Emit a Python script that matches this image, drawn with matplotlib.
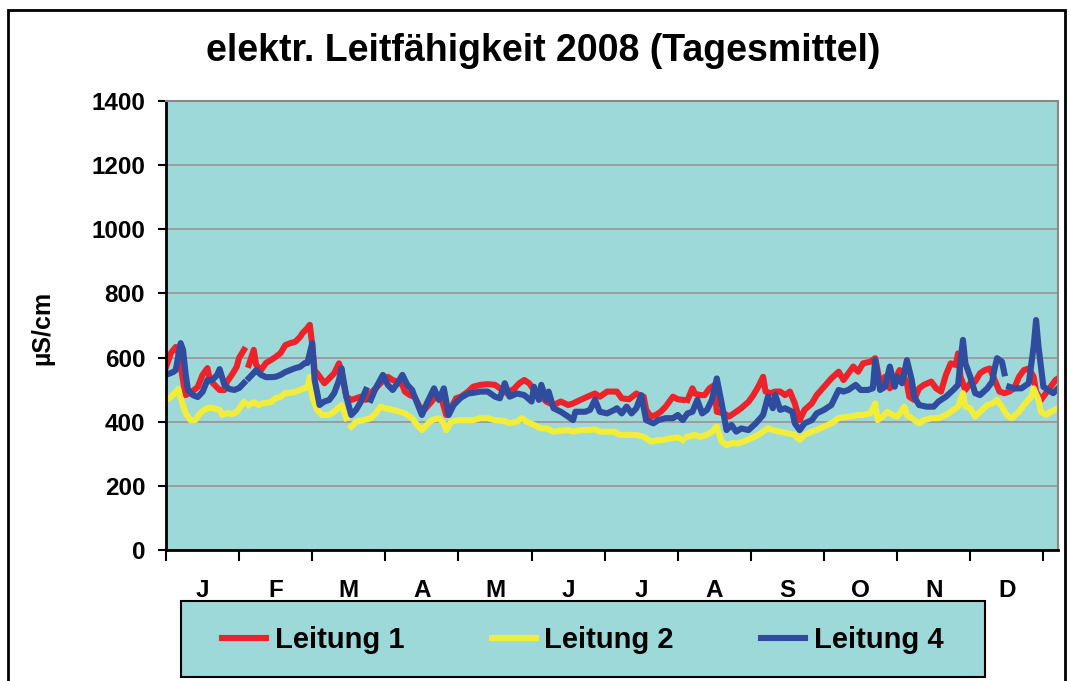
import numpy as np
import matplotlib
matplotlib.use("Agg")
import matplotlib.pyplot as plt
from matplotlib.patches import Rectangle

plt.rcParams["font.family"] = ["Liberation Sans", "DejaVu Sans"]
plt.rcParams["font.weight"] = "bold"

# Daily means (day of year, µS/cm); None = missing data
nan = None
l1_days = [0, 2, 4, 5, 8, 10, 13, 15, 17, 18, 20, 22, 24, 25, 27, 29, 30, 32, 33, 34, 36, 37, 39, 41,
           43, 45, 47, 49, 51, 53, 55, 56, 58, 59, 60, 61, 62, 65, 67, 69, 71, 72, 74, 76, 78, 80,
           82, 84, 86, 88, 91, 93, 95, 97, 98, 100, 102, 104, 106, 109, 111, 113, 115, 117, 119,
           121, 124, 126, 129, 132, 135, 137, 140, 143, 145, 147, 149, 151, 154, 156, 159, 162,
           165, 167, 170, 173, 176, 178, 181, 184, 185, 187, 190, 193, 195, 196, 197, 199, 201,
           203, 205, 208, 210, 212, 213, 214, 216, 217, 219, 221, 223, 225, 226, 229, 231, 233,
           236, 239, 241, 243, 245, 246, 248, 250, 252, 254, 256, 258, 260, 262, 265, 267, 270,
           273, 276, 278, 280, 282, 284, 286, 289, 291, 293, 295, 297, 299, 301, 302, 304, 305,
           307, 309, 311, 314, 316, 318, 320, 322, 324, 325, 326, 328, 330, 332, 334, 336, 338,
           340, 342, 344, 346, 348, 350, 352, 354, 356, 357, 359, 362, 365, 366]
l1_vals = [570, 614, 633, 620, 483, 490, 508, 546, 567, 530, 514, 499, 499, 524, 546, 571, 599, 624, nan,
           577, 624, 577, 561, 583, 592, 602, 614, 639, 645, 649, 664, 676, 692, 702, 640, 560,
           551, 520, 535, 551, 582, 551, 478, 468, 473, 478, 468, 489, 504, 520, 540, 530, 525,
           515, 494, 483, 478, 447, 437, 463, 483, 473, 421, 442, 473, 478, 494, 509, 515, 517,
           515, 504, 488, 504, 520, 530, 520, 499, 478, 463, 452, 463, 452, 457, 468, 478, 488,
           478, 494, 494, 494, 473, 470, 488, 478, 478, 437, 416, 421, 431, 447, 478, 470, 468,
           nan, 468, 504, 488, 483, 483, 504, 514, 431, 426, 416, 426, 442, 462, 483, 509, 540,
           494, 489, 494, 494, 483, 494, 457, 405, 437, 457, 483, 509, 535, 556, 530, 551, 572,
           556, 582, 587, 598, 520, 540, 504, 530, 561, 555, 520, 478, 468, 504, 515, 525, 504,
           494, 546, 582, 577, 613, 540, 499, 520, 525, 551, 561, 566, 530, 494, 489, 494, 504,
           540, 561, 566, 540, 494, 468, 499, 530, 535]

l2_days = [0, 2, 4, 5, 6, 8, 10, 12, 14, 17, 19, 22, 23, 25, 27, 29, 31, 32, 33, 34, 36, 38, 40, 43,
           45, 47, 49, 51, 53, 55, 57, 58, 59, 60, 62, 64, 67, 69, 72, 74, 75, 76, 78, 81, 84, 86,
           88, 90, 93, 96, 98, 101, 103, 105, 107, 109, 112, 114, 115, 117, 120, 123, 126, 129,
           132, 135, 139, 141, 144, 146, 148, 151, 154, 156, 159, 162, 165, 167, 170, 173, 176,
           178, 181, 184, 186, 188, 191, 193, 196, 199, 202, 204, 207, 210, 212, 213, 214, 217,
           219, 222, 224, 226, 228, 230, 232, 235, 237, 240, 243, 245, 247, 249, 252, 255, 258,
           260, 262, 265, 267, 270, 273, 276, 278, 281, 284, 286, 289, 291, 292, 294, 296, 298,
           300, 302, 303, 304, 306, 309, 311, 314, 317, 320, 322, 325, 327, 328, 330, 332, 334,
           337, 339, 341, 343, 345, 347, 350, 352, 355, 356, 358, 359, 361, 363, 366]
l2_vals = [468, 477, 493, 502, 474, 427, 405, 405, 427, 443, 443, 437, 421, 427, 424, 430, 452, 461, nan,
           452, 461, 452, 458, 461, 474, 477, 490, 490, 493, 499, 505, 508, 540, 478, 437, 421,
           421, 431, 452, 411, nan, 385, 400, 405, 411, 426, 447, 442, 437, 431, 426, 411, 390,
           374, 390, 405, 411, 395, 374, 400, 405, 405, 405, 411, 411, 405, 402, 395, 400, 411,
           400, 390, 379, 379, 369, 372, 374, 369, 374, 374, 376, 369, 369, 369, 359, 359, 359,
           359, 353, 338, 343, 343, 348, 351, 343, nan, 353, 359, 353, 359, 369, 385, 338, 327,
           333, 333, 338, 348, 359, 369, 380, 374, 369, 364, 359, 343, 359, 369, 374, 385, 395,
           411, 414, 416, 421, 421, 426, 457, 405, 416, 431, 421, 416, 437, 447, 421, 411, 395,
           405, 411, 411, 421, 431, 447, 489, 447, 442, 416, 431, 452, 457, 468, 447, 421, 411,
           431, 452, 478, 504, 468, 431, 421, 431, 442]

l4_days = [0, 3, 4, 6, 7, 8, 9, 11, 13, 15, 17, 19, 21, 22, 24, 26, 28, 30, 32, 33, 34, 36, 37, 39,
           41, 43, 45, 47, 49, 51, 53, 55, 57, 58, 60, 61, 63, 65, 67, 69, 71, 72, 74, 76, 78, 80,
           82, 83, 84, 86, 89, 91, 93, 95, 97, 99, 101, 102, 105, 107, 110, 112, 114, 116, 118,
           121, 124, 126, 129, 132, 135, 137, 139, 141, 144, 147, 150, 151, 153, 154, 156, 157,
           159, 162, 165, 167, 168, 172, 174, 176, 178, 181, 184, 185, 187, 189, 191, 193, 195,
           197, 200, 202, 205, 208, 210, 212, 214, 216, 218, 220, 222, 224, 226, 228, 230, 232,
           234, 236, 239, 242, 245, 247, 249, 250, 252, 254, 257, 258, 260, 262, 265, 267, 270,
           273, 276, 278, 280, 283, 285, 288, 290, 291, 293, 295, 297, 299, 300, 302, 304, 306,
           307, 309, 312, 315, 317, 320, 323, 325, 326, 327, 328, 330, 332, 334, 337, 339, 340,
           341, 343, 344, 345, 346, 348, 351, 354, 356, 357, 358, 360, 362, 364, 366]
l4_vals = [546, 555, 561, 645, 624, 552, 499, 483, 477, 493, 530, 530, 546, 564, 514, 502, 499, 505, 521,
           nan, 536, 552, 561, 546, 539, 539, 540, 546, 555, 561, 567, 571, 583, 583, 645, 530,
           452, 463, 468, 489, 530, 567, 478, 421, 437, 463, 499, nan, 468, 504, 546, 515, 499,
           520, 546, 515, 499, 478, 421, 457, 504, 468, 504, 421, 452, 475, 488, 490, 494, 494,
           478, 473, 520, 478, 488, 483, 463, 509, 468, 515, 468, 494, 442, 431, 416, 405, 431,
           431, 437, 468, 431, 426, 437, 442, 426, 447, 426, 442, 483, 405, 395, 405, 411, 411,
           421, 405, 426, 431, 468, 426, 437, 468, 535, 457, 374, 390, 369, 379, 374, 395, 421,
           478, 442, 483, 437, 442, 431, 395, 374, 395, 405, 426, 437, 452, 499, 494, 499, 515,
           499, 499, 504, 592, 499, 509, 572, 509, 540, 520, 592, 530, 478, 452, 447, 447, 463,
           478, 499, 515, 587, 655, 582, 540, 489, 483, 504, 525, 566, 598, 587, 551, nan, 509,
           504, 504, 520, 634, 717, 634, 509, 499, 489, 504]

months = ["J", "F", "M", "A", "M", "J", "J", "A", "S", "O", "N", "D"]
series = [("Leitung 1", l1_days, l1_vals, "#EE2229"),
          ("Leitung 2", l2_days, l2_vals, "#F2EC3A"),
          ("Leitung 4", l4_days, l4_vals, "#2F4C9F")]

teal = "#9ED9D9"
fig = plt.figure(figsize=(10.70, 6.81), dpi=100)
ax = fig.add_axes([166 / 1070, 1 - 550 / 681, 892 / 1070, 449 / 681])
ax.set_facecolor(teal)

for name, d, v, c in series:
    ax.plot(np.array(d, dtype=float), np.array(v, dtype=float), color=c, lw=4.4,
            solid_joinstyle="round", label=name)

ax.set_xlim(0, 366)
ax.set_ylim(0, 1400)
ax.set_yticks(np.arange(0, 1401, 200))
ax.yaxis.grid(True, color="#999999", lw=1.3)
ax.set_axisbelow(True)
ax.tick_params(axis="y", length=6, width=1.5, pad=9, labelsize=17.5)

ax.set_xticks(np.arange(0, 361, 30))
ax.set_xticklabels([])
ax.set_xticks(np.arange(15, 360, 30), minor=True)
ax.set_xticklabels(months, minor=True, fontsize=17.5, fontweight="bold")
ax.tick_params(axis="x", which="major", length=8, width=1.5)
ax.tick_params(axis="x", which="minor", length=0, pad=21)

for s in ["left", "bottom"]:
    ax.spines[s].set_linewidth(2)
    ax.spines[s].set_color("black")
for s in ["top", "right"]:
    ax.spines[s].set_linewidth(1.5)
    ax.spines[s].set_color("#888888")

fig.text(543 / 1070, 1 - 51 / 681, "elektr. Leitfähigkeit 2008 (Tagesmittel)",
         ha="center", va="center", fontsize=27, fontweight="bold")
fig.text(42 / 1070, 1 - 328 / 681, "µS/cm", rotation=90, ha="center", va="center",
         fontsize=18, fontweight="bold")

# legend box
fig.patches.append(Rectangle((181 / 1070, 1 - 677 / 681), 804 / 1070, 76 / 681,
                             transform=fig.transFigure, facecolor=teal,
                             edgecolor="black", lw=1.5))
fig.legend(loc="center", bbox_to_anchor=(583 / 1070, 1 - 640 / 681), ncol=3,
           frameon=False, handlelength=1.5, handletextpad=0.3,
           columnspacing=3.0, prop={"weight": "bold", "size": 21})

# outer chart border
fig.patches.append(Rectangle((8 / 1070, -0.05), 1057 / 1070, 1.05 - 10 / 681,
                             transform=fig.transFigure, facecolor="none",
                             edgecolor="black", lw=2))

fig.savefig("out.png", dpi=100)
